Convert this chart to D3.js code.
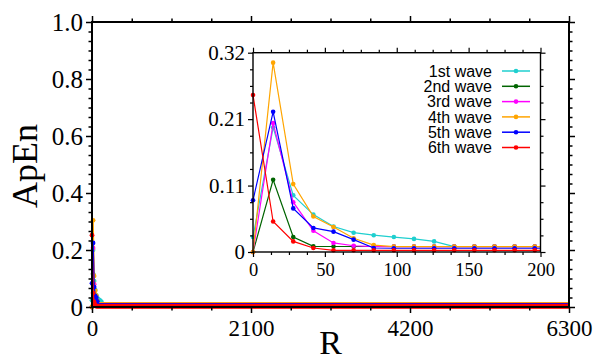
<!DOCTYPE html>
<html>
<head>
<meta charset="utf-8">
<script src="https://cdn.jsdelivr.net/npm/d3@7"></script>
<style>
    body { margin: 0; background: #fff; }
    .container { width: 595px; height: 360px; }
</style>
</head>
<body>
<div class="container"></div>
<script>
const rSample = [0, 14, 28, 42, 56, 70, 84, 98, 112, 126, 140, 154, 168, 182, 196];
const waveNames = ["1st wave", "2nd wave", "3rd wave", "4th wave", "5th wave", "6th wave"];
const waveColors = ["#1fcfcf", "#006400", "#ff00ff", "#ffa500", "#0000ff", "#ff0000"];

const wave1 = [0.024, 0.200, 0.091, 0.060, 0.041, 0.031, 0.027, 0.024, 0.021, 0.017, 0.0086, 0.0086, 0.0086, 0.0086, 0.0086];
const wave2 = [0.000, 0.116, 0.024, 0.009, 0.0088, 0.0088, 0.0088, 0.0088, 0.0088, 0.0088, 0.0088, 0.0088, 0.0088, 0.0088, 0.0088];
const wave3 = [0.000, 0.207, 0.080, 0.034, 0.0145, 0.010, 0.0086, 0.0086, 0.0086, 0.0086, 0.0086, 0.0086, 0.0086, 0.0086, 0.0086];
const wave4 = [0.000, 0.304, 0.109, 0.057, 0.040, 0.022, 0.011, 0.0086, 0.0086, 0.0086, 0.0086, 0.0086, 0.0086, 0.0086, 0.0086];
const wave5 = [0.083, 0.225, 0.070, 0.0386, 0.0327, 0.0198, 0.0064, 0.006, 0.006, 0.006, 0.006, 0.006, 0.006, 0.006, 0.006];
const wave6 = [0.252, 0.049, 0.017, 0.0064, 0.0027, 0.0027, 0.0027, 0.0027, 0.0027, 0.0027, 0.0027, 0.0027, 0.0027, 0.0027, 0.0027];

// beyond R=196 every wave stays flat at its last value up to R=6300
const rStep = 14;
const rMax = 6300;

const xTicks = [0, 2100, 4200, 6300];
const xTickLabels = ["0", "2100", "4200", "6300"];
const yTicks = [0, 0.2, 0.4, 0.6, 0.8, 1.0];
const yTickLabels = ["0", "0.2", "0.4", "0.6", "0.8", "1.0"];
const insetXTicks = [0, 50, 100, 150, 200];
const insetXTickLabels = ["0", "50", "100", "150", "200"];
const insetYTicks = [0, 0.32 / 3, 0.64 / 3, 0.32];
const insetYTickLabels = ["0", "0.11", "0.21", "0.32"];

const waves = [wave1, wave2, wave3, wave4, wave5, wave6];

let width = 595;
let height = 360;

let svg = d3.select(".container")
    .append("svg")
    .attr("width", width)
    .attr("height", height);

// main plot frame
let main = { left: 92, right: 569, top: 22, bottom: 307 };
let inset = { left: 253, right: 540.5, top: 52.7, bottom: 252 };

let x = d3.scaleLinear().domain([0, rMax]).range([main.left, main.right]);
let y = d3.scaleLinear().domain([0, 1]).range([main.bottom, main.top]);
let ix = d3.scaleLinear().domain([0, 200]).range([inset.left, inset.right]);
let iy = d3.scaleLinear().domain([0, 0.32]).range([inset.bottom, inset.top]);

const serif = "'Liberation Serif', 'Times New Roman', Times, serif";
const sans = "'Liberation Sans', Arial, Helvetica, sans-serif";

const fullSeries = waves.map(function (w) {
    let pts = rSample.map(function (r, i) { return [r, w[i]]; });
    let last = w[w.length - 1];
    for (let r = rSample[rSample.length - 1] + rStep; r <= rMax; r += rStep) {
        pts.push([r, last]);
    }
    return pts;
});

// minor tick helper
const minorTicks = (ticks, n) => {
    let out = [];
    for (let i = 0; i < ticks.length - 1; i++) {
        let step = (ticks[i + 1] - ticks[i]) / (n + 1);
        for (let k = 1; k <= n; k++) out.push(ticks[i] + k * step);
    }
    return out;
};

const drawAxes = (g, xs, ys, box, opt) => {
    let xMinor = minorTicks(opt.xTicks, opt.xMinor);
    let yMinor = minorTicks(opt.yTicks, opt.yMinor);

    let parts = [
        { ax: d3.axisBottom(xs).tickValues(opt.xTicks).tickSize(opt.major), tr: "translate(0," + box.bottom + ")", kind: "x" },
        { ax: d3.axisBottom(xs).tickValues(xMinor).tickSize(opt.minor).tickFormat(""), tr: "translate(0," + box.bottom + ")" },
        { ax: d3.axisTop(xs).tickValues(opt.xTicks).tickSize(opt.major).tickFormat(""), tr: "translate(0," + box.top + ")" },
        { ax: d3.axisTop(xs).tickValues(xMinor).tickSize(opt.minor).tickFormat(""), tr: "translate(0," + box.top + ")" },
        { ax: d3.axisLeft(ys).tickValues(opt.yTicks).tickSize(opt.major), tr: "translate(" + box.left + ",0)", kind: "y" },
        { ax: d3.axisLeft(ys).tickValues(yMinor).tickSize(opt.minor).tickFormat(""), tr: "translate(" + box.left + ",0)" },
        { ax: d3.axisRight(ys).tickValues(opt.yTicks).tickSize(opt.major).tickFormat(""), tr: "translate(" + box.right + ",0)" },
        { ax: d3.axisRight(ys).tickValues(yMinor).tickSize(opt.minor).tickFormat(""), tr: "translate(" + box.right + ",0)" }
    ];

    parts.forEach(function (p) {
        let size = opt.xFont;
        if (p.kind === "y") {
            p.ax.tickFormat(function (d, i) { return opt.yLabels[i]; }).tickPadding(opt.yPad);
            size = opt.yFont;
        }
        if (p.kind === "x") {
            p.ax.tickFormat(function (d, i) { return opt.xLabels[i]; }).tickPadding(opt.xPad);
        }
        let a = g.append("g")
            .attr("transform", p.tr)
            .call(p.ax)
            .attr("font-family", serif)
            .attr("font-size", size);
        a.select(".domain").remove();
        a.selectAll("line").attr("stroke", "#000").attr("stroke-width", opt.tickWidth);
        a.selectAll("text")
            .style("font-family", serif)
            .style("font-size", size + "px")
            .attr("fill", "#000");
    });

    g.append("rect")
        .attr("x", box.left)
        .attr("y", box.top)
        .attr("width", box.right - box.left)
        .attr("height", box.bottom - box.top)
        .attr("fill", "none")
        .attr("stroke", "#000")
        .attr("stroke-width", opt.frameWidth);
};

// main chart
let mainG = svg.append("g");

mainG.append("clipPath")
    .attr("id", "mainClip")
    .append("rect")
    .attr("x", main.left - 4)
    .attr("y", main.top)
    .attr("width", main.right - main.left + 4)
    .attr("height", main.bottom - main.top + 4);

let mainData = mainG.append("g").attr("clip-path", "url(#mainClip)");

fullSeries.forEach(function (pts, i) {
    mainData.append("path")
        .datum(pts)
        .attr("fill", "none")
        .attr("stroke", waveColors[i])
        .attr("stroke-width", 1.5)
        .attr("d", d3.line()
            .x(function (d) { return x(d[0]); })
            .y(function (d) { return y(d[1]); }));
    mainData.append("g")
        .selectAll("circle")
        .data(pts)
        .enter()
        .append("circle")
        .attr("cx", function (d) { return x(d[0]); })
        .attr("cy", function (d) { return y(d[1]); })
        .attr("r", 2.4)
        .attr("fill", waveColors[i]);
});

drawAxes(mainG, x, y, main, {
    xTicks: xTicks, xLabels: xTickLabels, xMinor: 3,
    yTicks: yTicks, yLabels: yTickLabels, yMinor: 5,
    major: 6, minor: 3.5, tickWidth: 1.5, frameWidth: 2, xFont: 23, yFont: 25, xPad: 7, yPad: 3
});

// axis titles
svg.append("text")
    .attr("transform", "translate(37,166) rotate(-90)")
    .attr("text-anchor", "middle")
    .style("font-family", serif)
    .style("font-size", "36px")
    .text("ApEn");

svg.append("text")
    .attr("x", (main.left + main.right) / 2)
    .attr("y", 354)
    .attr("text-anchor", "middle")
    .style("font-family", serif)
    .style("font-size", "34px")
    .text("R");

// inset
let insetG = svg.append("g");

insetG.append("rect")
    .attr("x", inset.left)
    .attr("y", inset.top)
    .attr("width", inset.right - inset.left)
    .attr("height", inset.bottom - inset.top)
    .attr("fill", "#fff");

insetG.append("clipPath")
    .attr("id", "insetClip")
    .append("rect")
    .attr("x", inset.left - 4)
    .attr("y", inset.top)
    .attr("width", inset.right - inset.left + 4)
    .attr("height", inset.bottom - inset.top + 4);

let insetData = insetG.append("g").attr("clip-path", "url(#insetClip)");

fullSeries.forEach(function (pts, i) {
    let shown = pts.filter(function (d) { return d[0] <= 210; });
    insetData.append("path")
        .datum(shown)
        .attr("fill", "none")
        .attr("stroke", waveColors[i])
        .attr("stroke-width", 1.2)
        .attr("d", d3.line()
            .x(function (d) { return ix(d[0]); })
            .y(function (d) { return iy(d[1]); }));
    insetData.append("g")
        .selectAll("circle")
        .data(shown)
        .enter()
        .append("circle")
        .attr("cx", function (d) { return ix(d[0]); })
        .attr("cy", function (d) { return iy(d[1]); })
        .attr("r", 2.3)
        .attr("fill", waveColors[i]);
});

drawAxes(insetG, ix, iy, inset, {
    xTicks: insetXTicks, xLabels: insetXTickLabels, xMinor: 3,
    yTicks: insetYTicks, yLabels: insetYTickLabels, yMinor: 3,
    major: 5, minor: 3, tickWidth: 1.2, frameWidth: 1.4, xFont: 18.5, yFont: 21, xPad: 6, yPad: 3
});

// legend
let legend = insetG.append("g")
    .selectAll("g")
    .data(waveNames)
    .enter()
    .append("g")
    .attr("transform", function (d, i) {
        return "translate(0," + (71 + i * 15.3) + ")";
    });

legend.append("text")
    .attr("x", 492)
    .attr("dy", "0.36em")
    .attr("text-anchor", "end")
    .style("font-family", sans)
    .style("font-size", "16px")
    .text(function (d) { return d; });

legend.append("line")
    .attr("x1", 502)
    .attr("x2", 530)
    .attr("stroke", function (d, i) { return waveColors[i]; })
    .attr("stroke-width", 1.5);

legend.append("circle")
    .attr("cx", 516)
    .attr("r", 2.3)
    .attr("fill", function (d, i) { return waveColors[i]; });
</script>
</body>
</html>
